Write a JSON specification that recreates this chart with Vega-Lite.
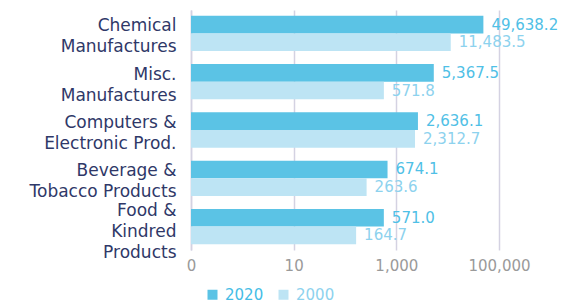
{
  "$schema": "https://vega.github.io/schema/vega-lite/v6.json",
  "width": 308,
  "height": 240,
  "autosize": {"type": "none"},
  "padding": {"left": 191, "top": 10, "right": 65, "bottom": 55},
  "background": "white",
  "config": {
    "view": {"stroke": null},
    "font": "DejaVu Sans"
  },
  "data": {
    "values": [
      {"category": "Chemical Manufactures", "year": "2020", "value": 49638.2},
      {"category": "Chemical Manufactures", "year": "2000", "value": 11483.5},
      {"category": "Misc. Manufactures", "year": "2020", "value": 5367.5},
      {"category": "Misc. Manufactures", "year": "2000", "value": 571.8},
      {"category": "Computers & Electronic Prod.", "year": "2020", "value": 2636.1},
      {"category": "Computers & Electronic Prod.", "year": "2000", "value": 2312.7},
      {"category": "Beverage & Tobacco Products", "year": "2020", "value": 674.1},
      {"category": "Beverage & Tobacco Products", "year": "2000", "value": 263.6},
      {"category": "Food & Kindred Products", "year": "2020", "value": 571.0},
      {"category": "Food & Kindred Products", "year": "2000", "value": 164.7}
    ]
  },
  "encoding": {
    "y": {
      "field": "category",
      "type": "nominal",
      "sort": ["Chemical Manufactures", "Misc. Manufactures", "Computers & Electronic Prod.", "Beverage & Tobacco Products", "Food & Kindred Products"],
      "scale": {"paddingInner": 0.27, "paddingOuter": 0.12},
      "axis": {
        "title": null,
        "ticks": false,
        "domain": true,
        "domainColor": "#d4d2e2",
        "domainWidth": 1.5,
        "labelPadding": 15,
        "labelFontSize": 17,
        "labelColor": "#2f3868",
        "labelLineHeight": 21,
        "labelLimit": 200,
        "labelOffset": {"condition": {"test": "datum.value == 'Food & Kindred Products'", "value": -16}, "value": -7},
        "labelExpr": "datum.value == 'Chemical Manufactures' ? ['Chemical', 'Manufactures'] : datum.value == 'Misc. Manufactures' ? ['Misc.', 'Manufactures'] : datum.value == 'Computers & Electronic Prod.' ? ['Computers &', 'Electronic Prod.'] : datum.value == 'Beverage & Tobacco Products' ? ['Beverage &', 'Tobacco Products'] : ['Food &', 'Kindred', 'Products']"
      }
    },
    "yOffset": {"field": "year", "type": "nominal", "sort": ["2020", "2000"]},
    "x": {
      "field": "value",
      "type": "quantitative",
      "scale": {"type": "log", "domain": [0.1, 100000]},
      "axis": {
        "title": null,
        "values": [0.1, 10, 1000, 100000],
        "format": ",.0f",
        "ticks": false,
        "domain": false,
        "grid": true,
        "gridColor": "#d4d2e2",
        "gridWidth": 1.5,
        "labelFontSize": 15,
        "labelColor": "#9a9a9a",
        "labelPadding": 8,
        "labelFlush": false
      }
    }
  },
  "layer": [
    {
      "mark": {"type": "bar"},
      "encoding": {
        "x2": {"datum": 0.1},
        "color": {
          "field": "year",
          "type": "nominal",
          "sort": ["2020", "2000"],
          "scale": {"domain": ["2020", "2000"], "range": ["#5bc3e5", "#bde4f4"]},
          "legend": {
            "title": null,
            "orient": "none",
            "direction": "horizontal",
            "legendX": 14,
            "legendY": 277,
            "symbolType": "square",
            "symbolSize": 100,
            "symbolStrokeWidth": 0,
            "labelFontSize": 15,
            "columnPadding": 12,
            "labelOffset": 5,
            "encode": {
              "labels": {"update": {"fill": {"signal": "datum.label == '2020' ? '#45bde6' : '#8dd2ee'"}}},
              "symbols": {"update": {"fill": {"signal": "datum.label == '2020' ? '#4cbfe6' : '#9dd7f0'"}, "opacity": {"value": 1}}}
            }
          }
        }
      }
    },
    {
      "mark": {"type": "text", "align": "left", "baseline": "middle", "dx": 8, "fontSize": 15},
      "encoding": {
        "text": {"field": "value", "type": "quantitative", "format": ",.1f"},
        "color": {
          "condition": {"test": "datum.year == '2020'", "value": "#4fc0e6"},
          "value": "#8dd2ee"
        }
      }
    }
  ]
}
